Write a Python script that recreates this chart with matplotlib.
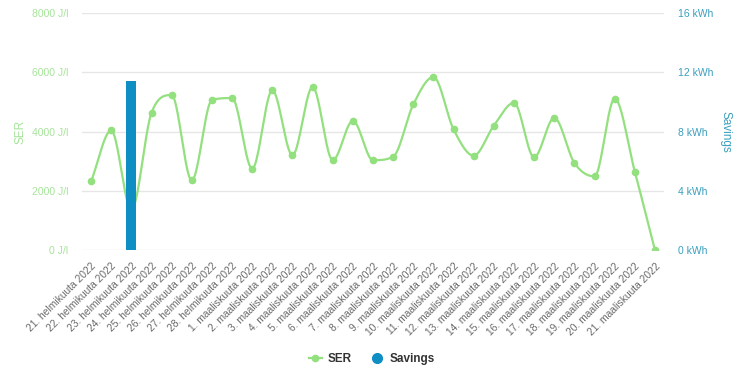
"""SER and savings per day, with a smoothed SER line and savings bars."""
import numpy as np
import matplotlib
matplotlib.use('Agg')
import matplotlib.pyplot as plt
from matplotlib.lines import Line2D

plt.rcParams['font.family'] = ['Liberation Sans', 'DejaVu Sans']

# Days shown on the x axis
feb_days = [21, 22, 23, 24, 25, 26, 27, 28]
mar_days = list(range(1, 22))
labels = [f'{d}. helmikuuta 2022' for d in feb_days] + \
         [f'{d}. maaliskuuta 2022' for d in mar_days]

# SER values (J/l)
ser = [2315, 4035, 1350, 4630, 5230, 2350, 5060, 5130, 2745, 5390,
       3200, 5500, 3030, 4360, 3030, 3150, 4915, 5840, 4070, 3185,
       4200, 4970, 3130, 4460, 2940, 2485, 5110, 2645, 0]

# Savings (kWh), only one day has a value
savings = [0, 0, 11.4] + [0] * 26

LINE_C = '#93e07f'
BAR_C = '#0f8ec4'
LEFT_TXT = '#a6e49a'
RIGHT_TXT = '#3a9fbf'


def monotone(xs, ys, steps=24):
    """Monotone cubic (Fritsch-Carlson) smoothing through the points."""
    xs = np.asarray(xs, float)
    ys = np.asarray(ys, float)
    n = len(xs)
    h = np.diff(xs)
    d = np.diff(ys) / h
    m = np.zeros(n)
    m[0], m[-1] = d[0], d[-1]
    for i in range(1, n - 1):
        m[i] = 0 if d[i - 1] * d[i] <= 0 else (d[i - 1] + d[i]) / 2
    for i in range(n - 1):
        if d[i] == 0:
            m[i] = m[i + 1] = 0
            continue
        a, b = m[i] / d[i], m[i + 1] / d[i]
        s = a * a + b * b
        if s > 9:
            tau = 3 / np.sqrt(s)
            m[i], m[i + 1] = tau * a * d[i], tau * b * d[i]
    out_x, out_y = [xs[0]], [ys[0]]
    t = np.linspace(0, 1, steps)[1:]
    for i in range(n - 1):
        h00 = 2 * t ** 3 - 3 * t ** 2 + 1
        h10 = t ** 3 - 2 * t ** 2 + t
        h01 = -2 * t ** 3 + 3 * t ** 2
        h11 = t ** 3 - t ** 2
        out_x.extend(xs[i] + t * h[i])
        out_y.extend(h00 * ys[i] + h10 * h[i] * m[i] + h01 * ys[i + 1] + h11 * h[i] * m[i + 1])
    return np.array(out_x), np.array(out_y)


fig = plt.figure(figsize=(7.35, 3.72), dpi=100)
ax = fig.add_axes([0.1116, 0.328, 0.7918, 0.637])
ax2 = ax.twinx()

x = np.arange(len(labels))

# Savings bars on the right axis
ax2.bar(x, savings, width=0.5, color=BAR_C, zorder=2)
ax2.set_ylim(0, 16)
ax2.set_yticks([0, 4, 8, 12, 16])
ax2.set_yticklabels([f'{v} kWh' for v in [0, 4, 8, 12, 16]])

# SER line on the left axis, drawn below the bars
ax.set_zorder(ax2.get_zorder() - 1)
ax.patch.set_visible(False)
ax2.patch.set_visible(False)
lx, ly = monotone(x, ser)
ax.plot(lx, ly, color=LINE_C, lw=1.6, zorder=1)
ax.plot(x, ser, 'o', color=LINE_C, ms=4.5, zorder=1)

ax.set_ylim(0, 8000)
ax.set_xlim(-0.45, len(labels) - 0.55)
ax.set_yticks([0, 2000, 4000, 6000, 8000])
ax.set_yticklabels([f'{v} J/l' for v in [0, 2000, 4000, 6000, 8000]])
ax.grid(axis='y', color='#e6e6e6', lw=1)
ax.set_axisbelow(True)

ax.set_xticks(x)
ax.set_xticklabels(labels, rotation=45, ha='right', rotation_mode='anchor',
                   fontsize=7.4, color='#6a6a6a')

for a in (ax, ax2):
    for s in a.spines.values():
        s.set_visible(False)
    a.tick_params(length=0)

ax.tick_params(axis='y', labelsize=7.5, labelcolor=LEFT_TXT, pad=10)
ax.tick_params(axis='x', pad=8)
ax2.tick_params(axis='y', labelsize=7.5, labelcolor=RIGHT_TXT, pad=10)

ax.set_ylabel('SER', color=LEFT_TXT, fontsize=8.5, va='center')
ax.yaxis.set_label_coords(-0.106, 0.5)
ax2.set_ylabel('Savings', color=RIGHT_TXT, fontsize=8.5, rotation=270, va='center')
ax2.yaxis.set_label_coords(1.106, 0.5)

handles = [
    Line2D([0], [0], color=LINE_C, lw=1.6, marker='o', ms=4.5),
    Line2D([0], [0], color=BAR_C, lw=0, marker='o', ms=7),
]
leg = fig.legend(handles, ['SER', 'Savings'], loc='center', bbox_to_anchor=(0.506, 0.035),
                 ncol=2, frameon=False, prop={'weight': 'bold', 'size': 8.5},
                 handlelength=1.1, columnspacing=1.6, handletextpad=0.5)
for t in leg.get_texts():
    t.set_color('#333333')

fig.savefig('out.png', dpi=100)
